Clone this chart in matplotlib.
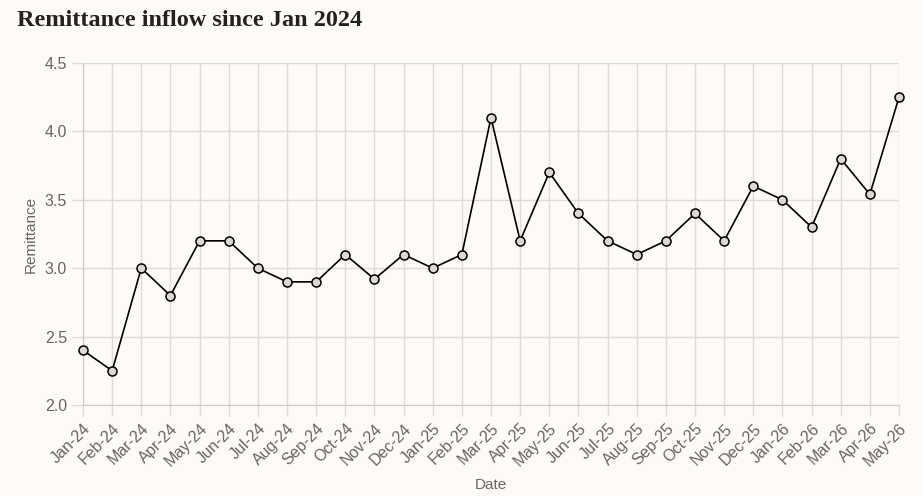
import matplotlib
matplotlib.use("Agg")
import matplotlib.pyplot as plt
import numpy as np

months = ["Jan-24", "Feb-24", "Mar-24", "Apr-24", "May-24", "Jun-24", "Jul-24",
          "Aug-24", "Sep-24", "Oct-24", "Nov-24", "Dec-24", "Jan-25", "Feb-25",
          "Mar-25", "Apr-25", "May-25", "Jun-25", "Jul-25", "Aug-25", "Sep-25",
          "Oct-25", "Nov-25", "Dec-25", "Jan-26", "Feb-26", "Mar-26", "Apr-26",
          "May-26"]
remittance = [2.4, 2.25, 3.0, 2.8, 3.2, 3.2, 3.0, 2.9, 2.9, 3.1, 2.92, 3.1, 3.0,
              3.1, 4.1, 3.2, 3.7, 3.4, 3.2, 3.1, 3.2, 3.4, 3.2, 3.6, 3.5, 3.3,
              3.8, 3.54, 4.25]
y_ticks = [2.0, 2.5, 3.0, 3.5, 4.0, 4.5]

BG = "#fffaf6"
GRID = "#e0dbd6"
TXT = "#666666"

plt.rcParams["font.family"] = ["Liberation Sans", "DejaVu Sans"]

fig = plt.figure(figsize=(9.22, 4.96), dpi=100, facecolor=BG)
ax = fig.add_axes([83 / 922, 1 - 405 / 496, 816 / 922, 342 / 496], facecolor=BG)

x = np.arange(len(months))
ax.plot(x, remittance, color="black", lw=1.2, zorder=3,
        marker="o", markersize=6.5, markerfacecolor="#dcd9d5",
        markeredgecolor="black", markeredgewidth=1.1, clip_on=False)

ax.set_xlim(0, len(months) - 1)
ax.set_ylim(2.0, 4.5)
ax.set_xticks(x)
ax.set_xticklabels(months, rotation=45, ha="right", rotation_mode="anchor")
ax.set_yticks(y_ticks)
ax.set_yticklabels([f"{v:.1f}" for v in y_ticks])

ax.grid(True, color=GRID, lw=1)
ax.set_axisbelow(True)
for side in ["top", "right"]:
    ax.spines[side].set_visible(False)
for side in ["left", "bottom"]:
    ax.spines[side].set_color("#cfcac5")
ax.tick_params(axis="both", colors=GRID, labelcolor=TXT, labelsize=11.5,
               length=8, width=1)

ax.set_xlabel("Date", color=TXT, fontsize=11, labelpad=6)
ax.set_ylabel("Remittance", color=TXT, fontsize=11, labelpad=5)

fig.text(17 / 922, 1 - 20 / 496, "Remittance inflow since Jan 2024",
         family=["Liberation Serif", "DejaVu Serif"], fontweight="bold",
         fontsize=17.5, color="#222222", va="center", ha="left")

fig.savefig("out.png", dpi=100, facecolor=BG)
